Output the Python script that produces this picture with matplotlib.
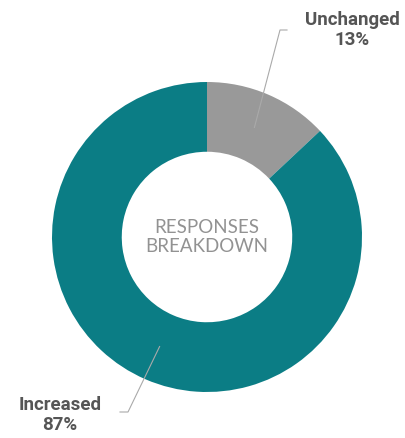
import numpy as np
import matplotlib.pyplot as plt

# Survey responses
labels = ['Unchanged', 'Increased']
shares = [13, 87]
colors = ['#999999', '#0b7d85']

W, H = 405, 439
fig = plt.figure(figsize=(W / 100, H / 100), dpi=100)
ax = fig.add_axes([0, 0, 1, 1])

cx, cy, R = 207, H - 238, 155
ax.pie(shares, colors=colors, startangle=90, counterclock=False,
       center=(cx, cy), radius=R, wedgeprops=dict(width=0.45 * R, linewidth=0),
       frame=True)
ax.set_xlim(0, W)
ax.set_ylim(0, H)
ax.set_aspect('equal')
ax.axis('off')

ax.text(cx, cy + 1, 'RESPONSES\nBREAKDOWN', ha='center', va='center',
        fontsize=13.5, color='#929292', family='Lato', linespacing=1.15)

# leader lines from the middle of each wedge to its label
label_pos = [(352, H - 30), (60, H - 415)]
elbow = [(280, H - 31, 287), (128, H - 413, 120)]
cum = 0
for lab, val, (tx, ty), (ex, ey, hx) in zip(labels, shares, label_pos, elbow):
    mid = np.radians((cum + val / 2) / 100 * 360)
    cum += val
    r = 0.77 * R
    px, py = cx + r * np.sin(mid), cy + r * np.cos(mid)
    ax.plot([px, ex, hx], [py, ey, ey], color='#aaaaaa', lw=0.8)
    ax.text(tx, ty, f'{lab}\n{val}%', ha='center', va='center', fontsize=13.5,
            fontweight='bold', family='Roboto', color='#555555', linespacing=1.1)

fig.savefig('out.png', dpi=100)
